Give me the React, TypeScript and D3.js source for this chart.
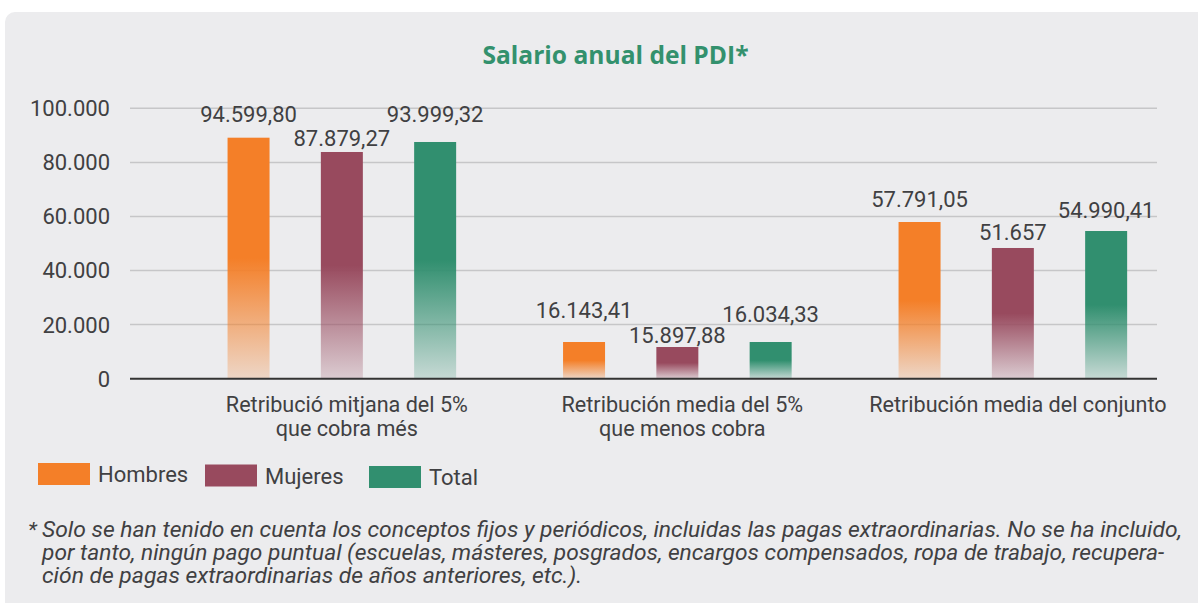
import React from "react";
import * as d3 from "d3";

const categories = [
  ["Retribució mitjana del 5%", "que cobra més"],
  ["Retribución media del 5%", "que menos cobra"],
  ["Retribución media del conjunto"],
];
const seriesNames = ["Hombres", "Mujeres", "Total"];
// bar heights as drawn in the picture
const hombres = [89130, 13570, 57950];
const mujeres = [83840, 11720, 48340];
const total = [87540, 13570, 54620];
// value labels as printed
const hombresLabels = ["94.599,80", "16.143,41", "57.791,05"];
const mujeresLabels = ["87.879,27", "15.897,88", "51.657"];
const totalLabels = ["93.999,32", "16.034,33", "54.990,41"];
const yTicks = [0, 20000, 40000, 60000, 80000, 100000];
const footnote = [
  "Solo se han tenido en cuenta los conceptos fijos y periódicos, incluidas las pagas extraordinarias. No se ha incluido,",
  "por tanto, ningún pago puntual (escuelas, másteres, posgrados, encargos compensados, ropa de trabajo, recupera-",
  "ción de pagas extraordinarias de años anteriores, etc.).",
];

const colors = ["#f47f28", "#984a5e", "#318f6f"];
// label lift above bar top, in px (layout)
const labelLift = [
  [16, 24, 15],
  [6, 4, 8],
  [20, 20, 13],
];
const footWidths = [1140, 1122, 540];

const W = 1198;
const H = 603;
const font = "Roboto, 'Noto Sans', sans-serif";
const textColor = "#404042";

const esLocale = d3.formatLocale({
  decimal: ",",
  thousands: ".",
  grouping: [3],
  currency: ["", "€"],
});
const fmt = esLocale.format(",d");

export default function App() {
  const values = [hombres, mujeres, total];
  const labels = [hombresLabels, mujeresLabels, totalLabels];
  const y = d3.scaleLinear().domain([0, 100000]).range([378.7, 108.3]);
  const x0 = d3
    .scaleBand<number>()
    .domain(categories.map((_, i) => i))
    .range([174.1, 1180.6])
    .padding(0);
  const x1 = d3.scalePoint<string>().domain(seriesNames).range([-93.3, 93.3]);
  const barW = 42;
  const gridX0 = 130;
  const gridX1 = 1157;

  return (
    <svg
      width={W}
      height={H}
      style={{ position: "absolute", left: 0, top: 0, background: "#fff" }}
    >
      <defs>
        {seriesNames.map((s, i) => (
          <linearGradient key={s} id={`grad${i}`} x1="0" y1="0" x2="0" y2="1">
            <stop offset="0" stopColor={colors[i]} stopOpacity={1} />
            <stop offset="0.5" stopColor={colors[i]} stopOpacity={1} />
            <stop offset="1" stopColor={colors[i]} stopOpacity={0.2} />
          </linearGradient>
        ))}
      </defs>
      <rect x={5} y={12} width={W + 20} height={H + 20} rx={10} fill="#ececee" />
      <text
        x={615.5}
        y={64}
        textAnchor="middle"
        fontFamily="'Open Sans', Lato, sans-serif"
        fontWeight={700}
        fontSize={24.6}
        fill="#33916d"
      >
        Salario anual del PDI*
      </text>

      {yTicks.map((t) => (
        <g key={t}>
          {t !== 0 && (
            <line
              x1={gridX0}
              x2={gridX1}
              y1={y(t)}
              y2={y(t)}
              stroke="#c6c6c8"
              strokeWidth={1.5}
            />
          )}
          <text
            x={110}
            y={y(t)}
            dy="0.36em"
            textAnchor="end"
            fontFamily={font}
            fontSize={22}
            fill={textColor}
          >
            {fmt(t)}
          </text>
        </g>
      ))}

      {categories.map((_, ci) =>
        seriesNames.map((s, si) => {
          const cx = (x0(ci) as number) + x0.bandwidth() / 2 + (x1(s) as number);
          const v = values[si][ci];
          return (
            <g key={`${ci}-${si}`}>
              <rect
                x={cx - barW / 2}
                y={y(v)}
                width={barW}
                height={y(0) - y(v)}
                fill={`url(#grad${si})`}
              />
              <text
                x={cx}
                y={y(v) - labelLift[si][ci]}
                textAnchor="middle"
                fontFamily={font}
                fontSize={22}
                fill={textColor}
              >
                {labels[si][ci]}
              </text>
            </g>
          );
        })
      )}

      <line x1={gridX0} x2={gridX1} y1={y(0)} y2={y(0)} stroke="#333" strokeWidth={2} />

      {categories.map((lines, ci) => {
        const cx = (x0(ci) as number) + x0.bandwidth() / 2 + 5;
        return (
          <text
            key={ci}
            x={cx}
            y={412}
            textAnchor="middle"
            fontFamily={font}
            fontSize={21.6}
            fill={textColor}
          >
            {lines.map((l, li) => (
              <tspan key={li} x={cx} dy={li === 0 ? 0 : 23.5}>
                {l}
              </tspan>
            ))}
          </text>
        );
      })}

      {seriesNames.map((s, i) => {
        const lx = [38, 205, 369][i];
        const ly = 463 + i * 1.5;
        return (
          <g key={s}>
            <rect x={lx} y={ly} width={52} height={22} fill={colors[i]} />
            <text
              x={lx + 60}
              y={ly + 19}
              fontFamily={font}
              fontSize={22}
              fill={textColor}
            >
              {s}
            </text>
          </g>
        );
      })}

      <text x={28} y={537} fontFamily={font} fontStyle="italic" fontSize={21} fill={textColor}>
        *
      </text>
      {footnote.map((l, i) => (
        <text
          key={i}
          x={42}
          y={537 + i * 23}
          fontFamily={font}
          fontStyle="italic"
          fontSize={21.5}
          fill={textColor}
          textLength={footWidths[i]}
          lengthAdjust="spacingAndGlyphs"
        >
          {l}
        </text>
      ))}
    </svg>
  );
}
